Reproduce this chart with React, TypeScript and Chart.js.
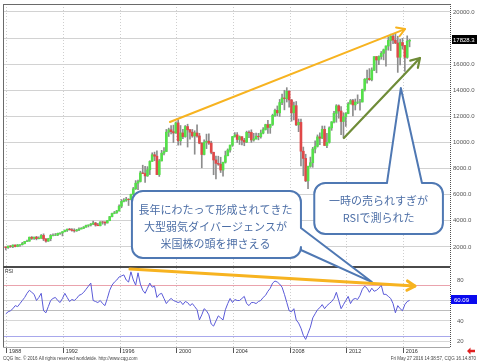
import React, { useEffect, useRef } from 'react';
import { Chart, registerables } from 'chart.js';

Chart.register(...registerables);

// Bimonthly candles of the Dow, first period = Nov-Dec 1987
const FIRST_PERIOD_START = 1987 + 10 / 12;
const PERIOD_LENGTH = 2 / 12;

const OPEN = [
  1990,
  1940, 2070, 2030, 2140, 2030, 2150,
  2170, 2260, 2420, 2440, 2740, 2650,
  2750, 2630, 2660, 2880, 2610, 2440,
  2630, 2880, 2890, 2910, 3040, 3070,
  3170, 3270, 3360, 3320, 3260, 3230,
  3300, 3370, 3430, 3520, 3650, 3680,
  3750, 3830, 3680, 3620, 3910, 3908,
  3830, 4010, 4320, 4560, 4610, 4760,
  5120, 5490, 5570, 5650, 5620, 6030,
  6450, 6880, 7010, 7670, 7622, 7440,
  7910, 8550, 9060, 8950, 7540, 8590,
  9180, 9310, 10790, 10970, 10830, 10730,
  11500, 10130, 10730, 10450, 11220, 10970,
  10790, 10500, 10730, 10500, 9950, 9080,
  10020, 10100, 9950, 9240, 8660, 8400,
  8340, 7890, 8480, 8990, 9420, 9800,
  10450, 10580, 10230, 10440, 10170, 10030,
  10780, 10770, 10190, 10270, 10480, 10440,
  10720, 10990, 11370, 11150, 11380, 12080,
  12460, 12270, 13060, 13410, 13360, 13930,
  13260, 12270, 12820, 11350, 11540, 9330,
  8780, 7060, 8170, 8450, 9500, 9710,
  10430, 10330, 11010, 9770, 10010, 11120,
  11580, 12230, 12810, 12410, 11610, 11960,
  12220, 12950, 13210, 12880, 13090, 13096,
  13104, 14050, 14840, 14910, 14810, 15550,
  16580, 16320, 16580, 16830, 17100, 17390,
  17820, 18130, 17840, 17620, 16530, 17660,
  17430, 16520, 17770,
];

const HIGH = [
  2000,
  2070, 2110, 2160, 2160, 2190, 2180,
  2350, 2420, 2530, 2760, 2790, 2760,
  2810, 2780, 2950, 3000, 2630, 2660,
  2950, 3000, 3030, 3060, 3070, 3170,
  3300, 3370, 3420, 3400, 3390, 3350,
  3460, 3480, 3560, 3670, 3690, 3800,
  3980, 3880, 3800, 3930, 3950, 3920,
  4030, 4340, 4600, 4720, 4800, 5220,
  5630, 5700, 5800, 5700, 6050, 6560,
  7080, 7110, 7800, 8260, 8180, 8150,
  8600, 9210, 9260, 9370, 8700, 9400,
  9600, 11000, 11100, 11300, 11330, 11570,
  11750, 11300, 11000, 11300, 11400, 11000,
  11000, 10900, 11350, 10700, 9980, 10200,
  10640, 10670, 10100, 9260, 8950, 8950,
  8870, 8500, 9340, 9510, 9800, 10470,
  10750, 10760, 10500, 10460, 10320, 10870,
  10900, 10970, 10700, 10720, 10700, 10950,
  11140, 11400, 11700, 11400, 12170, 12550,
  12800, 13300, 13700, 14000, 14200, 13950,
  13300, 13100, 13140, 11800, 11800, 9650,
  9100, 8200, 8880, 9630, 10120, 10580,
  10730, 11260, 11260, 10700, 11200, 11600,
  12390, 12900, 12880, 12760, 12280, 12290,
  13060, 13300, 13300, 13330, 13650, 13300,
  14090, 14900, 15550, 15660, 15720, 16590,
  16590, 16640, 16970, 17160, 17400, 18100,
  18300, 18290, 18350, 18140, 17900, 17980,
  17450, 18170, 17900,
];

const LOW = [
  1770,
  1880, 1960, 1940, 2000, 2010, 2040,
  2140, 2230, 2400, 2430, 2570, 2580,
  2540, 2610, 2650, 2480, 2360, 2420,
  2470, 2850, 2860, 2860, 2960, 2840,
  3150, 3180, 3280, 3200, 3130, 3190,
  3240, 3370, 3400, 3500, 3530, 3600,
  3700, 3590, 3620, 3610, 3740, 3670,
  3830, 4000, 4300, 4540, 4570, 4730,
  5000, 5440, 5490, 5170, 5600, 6000,
  6400, 6390, 6970, 7620, 6940, 7400,
  7540, 8540, 8600, 7530, 7400, 8580,
  9050, 9300, 10460, 10650, 10000, 10700,
  9800, 9800, 10300, 10400, 9650, 10260,
  10400, 9100, 10400, 9900, 8060, 9050,
  9530, 9850, 9130, 7530, 7200, 8250,
  7700, 7420, 8420, 8970, 9250, 9700,
  10400, 10000, 9850, 9810, 9750, 9990,
  10370, 10010, 10100, 10250, 10200, 10330,
  10660, 10950, 10700, 10700, 11300, 12000,
  12050, 12000, 12900, 12500, 13100, 12700,
  11630, 11730, 11300, 10830, 8200, 7450,
  7000, 6470, 8100, 8100, 9200, 9650,
  9830, 10300, 9770, 9610, 9950, 10930,
  11500, 11550, 11860, 10600, 10360, 11230,
  12200, 12950, 12030, 12490, 12970, 12470,
  13100, 13940, 14550, 14760, 14720, 15500,
  15340, 15960, 16380, 16330, 15850, 17070,
  17040, 17580, 17570, 15370, 15940, 17150,
  15450, 16450, 17330,
];

const CLOSE = [
  1940,
  2070, 2030, 2140, 2030, 2150, 2170,
  2260, 2420, 2440, 2740, 2650, 2750,
  2630, 2660, 2880, 2610, 2440, 2630,
  2880, 2890, 2910, 3040, 3070, 3170,
  3270, 3360, 3320, 3260, 3230, 3300,
  3370, 3430, 3520, 3650, 3680, 3750,
  3830, 3680, 3620, 3910, 3908, 3830,
  4010, 4320, 4560, 4610, 4760, 5120,
  5490, 5570, 5650, 5620, 6030, 6450,
  6880, 7010, 7670, 7622, 7440, 7910,
  8550, 9060, 8950, 7540, 8590, 9180,
  9310, 10790, 10970, 10830, 10730, 11500,
  10130, 10730, 10450, 11220, 10970, 10790,
  10500, 10730, 10500, 9950, 9080, 10020,
  10100, 9950, 9240, 8660, 8400, 8340,
  7890, 8480, 8990, 9420, 9800, 10450,
  10580, 10230, 10440, 10170, 10030, 10780,
  10770, 10190, 10270, 10480, 10440, 10720,
  10990, 11370, 11150, 11380, 12080, 12460,
  12270, 13060, 13410, 13360, 13930, 13260,
  12270, 12820, 11350, 11540, 9330, 8780,
  7060, 8170, 8450, 9500, 9710, 10430,
  10330, 11010, 9770, 10010, 11120, 11580,
  12230, 12810, 12410, 11610, 11960, 12220,
  12950, 13210, 12880, 13090, 13096, 13104,
  14050, 14840, 14910, 14810, 15550, 16580,
  16320, 16580, 16830, 17100, 17390, 17820,
  18130, 17840, 17620, 16530, 17660, 17430,
  16520, 17770, 17828.3,
];

const RSI = [
  47,
  49, 50, 52, 55, 54, 57,
  60, 63, 67, 70, 68, 66,
  60, 63, 67, 50, 48, 54,
  60, 62, 63, 60, 58, 62,
  67, 63, 59, 61, 60, 62,
  65, 66, 68, 71, 74, 77,
  60, 59, 58, 60, 57, 55,
  62, 70, 75, 78, 80, 83,
  84, 85, 80, 78, 88, 80,
  75, 87, 76, 70, 67, 72,
  77, 73, 74, 63, 66, 67,
  62, 57, 60, 62, 60, 59,
  58, 59, 56, 59, 58, 55,
  57, 54, 51, 41, 46, 52,
  50, 46, 37, 35, 40, 45,
  43, 41, 51, 57, 62, 58,
  61, 60, 60, 62, 64, 57,
  55, 58, 58, 57, 59, 60,
  63, 65, 69, 72, 77, 79,
  78, 76, 73, 66, 58, 50,
  49, 52, 41, 38, 33, 26,
  22, 28, 34, 43, 47, 51,
  53, 56, 52, 55, 57, 59,
  62, 68, 60, 52, 56, 60,
  64, 57, 61, 62, 61, 65,
  71, 74, 72, 68, 72, 69,
  70, 72, 75, 66, 66, 64,
  62, 57, 48, 55, 52, 50,
  56, 59, 60.09,
];

const YEAR_TICKS = [1988, 1992, 1996, 2000, 2004, 2008, 2012, 2016];
const PRICE_TICKS = [2000, 4000, 6000, 8000, 10000, 12000, 14000, 16000, 18000, 20000];
const RSI_LABELS = [20, 40, 60, 80];
const RSI_LINES = [20, 25, 40, 50, 60, 75, 80];

// annotations, in data coordinates [year, value]
const PRICE_TREND = [[1999.5, 11570], [2016.09, 18690]];
const SUPPORT_TREND = [[2011.78, 10340], [2017.15, 16470]];
const RSI_TREND = [[1996.68, 90.7], [2016.79, 74.1]];
const OVERSOLD_BOX = { x: [2009.69, 2018.77], p: [6894, 2987], base: [2014.82, 2017.29], tip: [2015.8, 14171] };
const DIVERGENCE_BOX = { x: [1996.82, 2008.75], p: [6281, 1149], base: [3447, 1762], tip: [2013.76, 78.0] };
const NOTE_DIVERGENCE = ['長年にわたって形成されてきた', '大型弱気ダイバージェンスが', '米国株の頭を押さえる'];
const NOTE_OVERSOLD = ['一時の売られすぎが', 'RSIで測られた'];
const FOOTER = 'CQG Inc. © 2016 All rights reserved worldwide. http://www.cqg.com';
const STAMP = 'Fri May 27 2016 14:38:57, CQG 16.14.870';

const FONT = '"Liberation Sans", Arial, sans-serif';
const JP_FONT = '"Noto Sans CJK JP", sans-serif';
const CALLOUT_BLUE = '#4f78b3';

function seg(ctx: any, x1: number, y1: number, x2: number, y2: number) {
  ctx.beginPath();
  ctx.moveTo(x1, y1);
  ctx.lineTo(x2, y2);
  ctx.stroke();
}

function arrow(ctx: any, x1: number, y1: number, x2: number, y2: number, color: string, width: number, head: number) {
  ctx.strokeStyle = color;
  ctx.lineWidth = width;
  ctx.lineCap = 'round';
  ctx.lineJoin = 'round';
  seg(ctx, x1, y1, x2, y2);
  const a = Math.atan2(y2 - y1, x2 - x1);
  ctx.beginPath();
  ctx.moveTo(x2 - head * Math.cos(a - 0.55), y2 - head * Math.sin(a - 0.55));
  ctx.lineTo(x2, y2);
  ctx.lineTo(x2 - head * Math.cos(a + 0.55), y2 - head * Math.sin(a + 0.55));
  ctx.stroke();
}

function callout(ctx: any, L: number, T: number, R: number, B: number, rad: number, tail: any) {
  ctx.beginPath();
  ctx.moveTo(L + rad, T);
  if (tail.side === 'top') {
    ctx.lineTo(tail.b1, T);
    ctx.lineTo(tail.tx, tail.ty);
    ctx.lineTo(tail.b2, T);
  }
  ctx.lineTo(R - rad, T);
  ctx.arcTo(R, T, R, T + rad, rad);
  if (tail.side === 'right') {
    ctx.lineTo(R, tail.b1);
    ctx.lineTo(tail.tx, tail.ty);
    ctx.lineTo(R, tail.b2);
  }
  ctx.lineTo(R, B - rad);
  ctx.arcTo(R, B, R - rad, B, rad);
  ctx.lineTo(L + rad, B);
  ctx.arcTo(L, B, L, B - rad, rad);
  ctx.lineTo(L, T + rad);
  ctx.arcTo(L, T, L + rad, T, rad);
  ctx.closePath();
  ctx.fillStyle = '#ffffff';
  ctx.fill();
  ctx.strokeStyle = CALLOUT_BLUE;
  ctx.lineWidth = 2;
  ctx.lineJoin = 'round';
  ctx.stroke();
}

function textLines(ctx: any, lines: string[], cx: number, cy: number, gap: number) {
  ctx.font = `11px ${JP_FONT}`;
  ctx.fillStyle = '#4c6ea6';
  ctx.textAlign = 'center';
  ctx.textBaseline = 'middle';
  const start = cy - ((lines.length - 1) * gap) / 2;
  lines.forEach((t, i) => ctx.fillText(t, cx, start + i * gap));
}

const overlayPlugin = {
  id: 'overlay',
  afterDraw(chart: any) {
    const { ctx, chartArea: area, scales } = chart;
    const X = (v: number) => scales.x.getPixelForValue(v);
    const P = (v: number) => scales.y.getPixelForValue(v);
    const R = (v: number) => scales.rsi.getPixelForValue(v);
    const rsiTop = scales.rsi.top;
    ctx.save();

    // frame
    ctx.lineWidth = 1;
    ctx.strokeStyle = '#6a6a6a';
    seg(ctx, area.left, area.top + 0.5, area.right, area.top + 0.5);
    seg(ctx, area.left + 0.5, area.top, area.left + 0.5, area.bottom);
    ctx.strokeStyle = '#a8a8a8';
    seg(ctx, area.left, area.bottom + 0.5, area.right, area.bottom + 0.5);
    ctx.setLineDash([1, 1]);
    ctx.strokeStyle = '#505050';
    seg(ctx, area.right + 0.5, area.top, area.right + 0.5, area.bottom);
    ctx.setLineDash([]);
    ctx.lineWidth = 2;
    ctx.strokeStyle = '#4a4a4a';
    seg(ctx, area.left, rsiTop, area.right, rsiTop);

    ctx.font = `5px ${FONT}`;
    ctx.fillStyle = '#333';
    ctx.textAlign = 'left';
    ctx.textBaseline = 'top';
    ctx.fillText('RSI', area.left + 2, rsiTop + 2);

    // trend arrows in the price panel
    arrow(ctx, X(PRICE_TREND[0][0]), P(PRICE_TREND[0][1]), X(PRICE_TREND[1][0]), P(PRICE_TREND[1][1]), '#f7b320', 2, 9);
    arrow(ctx, X(SUPPORT_TREND[0][0]), P(SUPPORT_TREND[0][1]), X(SUPPORT_TREND[1][0]), P(SUPPORT_TREND[1][1]), '#6f8c38', 2.2, 10);

    // callouts
    const ob = OVERSOLD_BOX;
    callout(ctx, X(ob.x[0]), P(ob.p[0]), X(ob.x[1]), P(ob.p[1]), 11,
      { side: 'top', b1: X(ob.base[0]), b2: X(ob.base[1]), tx: X(ob.tip[0]), ty: P(ob.tip[1]) });
    textLines(ctx, NOTE_OVERSOLD, (X(ob.x[0]) + X(ob.x[1])) / 2, (P(ob.p[0]) + P(ob.p[1])) / 2 + 1, 17);

    const db = DIVERGENCE_BOX;
    callout(ctx, X(db.x[0]), P(db.p[0]), X(db.x[1]), P(db.p[1]), 11,
      { side: 'right', b1: P(db.base[0]), b2: P(db.base[1]), tx: X(db.tip[0]), ty: R(db.tip[1]) });
    textLines(ctx, NOTE_DIVERGENCE, (X(db.x[0]) + X(db.x[1])) / 2 - 1, (P(db.p[0]) + P(db.p[1])) / 2 + 2, 17);

    // RSI divergence arrow
    arrow(ctx, X(RSI_TREND[0][0]), R(RSI_TREND[0][1]), X(RSI_TREND[1][0]), R(RSI_TREND[1][1]), '#f7b320', 3, 9);

    // last value tags
    const lastClose = CLOSE[CLOSE.length - 1];
    const yc = Math.round(P(lastClose));
    ctx.fillStyle = '#000';
    ctx.fillRect(area.right + 2, yc - 5, 25, 9);
    ctx.fillStyle = '#fff';
    ctx.font = `6px ${FONT}`;
    ctx.textAlign = 'left';
    ctx.textBaseline = 'middle';
    ctx.fillText(lastClose.toFixed(1), area.right + 3, yc);

    const lastRsi = RSI[RSI.length - 1];
    const yr = Math.round(R(lastRsi));
    ctx.fillStyle = '#0a0aee';
    ctx.fillRect(area.right + 1, yr - 5, 26, 9);
    ctx.fillStyle = '#fff';
    ctx.fillText(lastRsi.toFixed(2), area.right + 4, yr);

    // footer
    ctx.font = `4.5px ${FONT}`;
    ctx.fillStyle = '#444';
    ctx.textBaseline = 'middle';
    ctx.textAlign = 'left';
    ctx.fillText(FOOTER, 3, 359);
    ctx.textAlign = 'right';
    ctx.fillText(STAMP, 476, 359);

    // small red arrow icon
    ctx.fillStyle = '#e02020';
    ctx.beginPath();
    ctx.moveTo(467, 351);
    ctx.lineTo(470.5, 347.5);
    ctx.lineTo(470.5, 349.8);
    ctx.lineTo(475, 349.8);
    ctx.lineTo(475, 352.2);
    ctx.lineTo(470.5, 352.2);
    ctx.lineTo(470.5, 354.5);
    ctx.closePath();
    ctx.fill();

    ctx.restore();
  },
};

export default function App() {
  const ref = useRef<HTMLCanvasElement | null>(null);

  useEffect(() => {
    if (!ref.current) return;
    const xs = OPEN.map((_, i) => FIRST_PERIOD_START + i * PERIOD_LENGTH + PERIOD_LENGTH / 2);
    const chart = new Chart(ref.current, {
      type: 'bar',
      data: {
        datasets: [
          {
            type: 'bar',
            data: xs.map((x, i) => ({ x, y: [LOW[i], HIGH[i]] })),
            backgroundColor: '#8c8c8c',
            barThickness: 1,
            grouped: false,
            yAxisID: 'y',
            order: 2,
          } as any,
          {
            type: 'bar',
            data: xs.map((x, i) => ({ x, y: [OPEN[i], CLOSE[i]] })),
            backgroundColor: (c: any) => (CLOSE[c.dataIndex] >= OPEN[c.dataIndex] ? '#55e04a' : '#e04848'),
            barThickness: 2,
            grouped: false,
            yAxisID: 'y',
            order: 1,
          } as any,
          {
            type: 'line',
            data: xs.map((x, i) => ({ x, y: RSI[i] })),
            borderColor: '#5a5ad8',
            borderWidth: 1,
            pointRadius: 0,
            tension: 0,
            yAxisID: 'rsi',
            order: 0,
          } as any,
        ],
      },
      options: {
        animation: false,
        responsive: false,
        devicePixelRatio: 1,
        events: [],
        layout: { padding: { left: 3, top: 4, right: 0, bottom: 0 } },
        plugins: { legend: { display: false }, tooltip: { enabled: false } },
        scales: {
          x: {
            type: 'linear',
            min: 1987.72,
            max: 2019.27,
            offset: false,
            afterBuildTicks: (s: any) => { s.ticks = YEAR_TICKS.map((v) => ({ value: v })); },
            afterFit: (s: any) => { s.height = 17; s.paddingLeft = 0; s.paddingRight = 0; },
            grid: { color: '#cfcfcf', offset: false, drawTicks: true, tickLength: 6, tickColor: '#555', tickWidth: 1 },
            border: { display: false, dash: [1, 2] },
            ticks: {
              autoSkip: false,
              maxRotation: 0,
              align: 'start',
              labelOffset: 2,
              padding: -5,
              color: '#333',
              font: { family: FONT, size: 5.5 },
              callback: (v: any) => String(v),
            },
          },
          y: {
            type: 'linear',
            position: 'right',
            stack: 'panels',
            stackWeight: 263,
            min: 460,
            max: 20610,
            afterBuildTicks: (s: any) => { s.ticks = PRICE_TICKS.map((v) => ({ value: v })); },
            afterFit: (s: any) => { s.width = 27; s.paddingTop = 0; s.paddingBottom = 0; },
            grid: { color: '#d2d2d2', drawTicks: false },
            border: { display: false },
            ticks: {
              autoSkip: false,
              padding: 3,
              color: '#555',
              font: { family: FONT, size: 6 },
              callback: (v: any) => Number(v).toFixed(1),
            },
          },
          rsi: {
            type: 'linear',
            axis: 'y',
            position: 'right',
            stack: 'panels',
            stackWeight: 80,
            min: 14.6,
            max: 92.7,
            afterFit: (s: any) => { s.width = 27; s.paddingTop = 0; s.paddingBottom = 0; },
            afterBuildTicks: (s: any) => { s.ticks = RSI_LINES.map((v) => ({ value: v })); },
            grid: {
              drawTicks: false,
              color: (c: any) => {
                const v = c.tick && c.tick.value;
                if (v === 75) return '#eaa3ad';
                if (v === 25) return '#a8a8ec';
                if (v === 50) return '#bdbdbd';
                if (v === 80) return 'rgba(0,0,0,0)';
                return '#d6d6d6';
              },
            },
            border: { display: false },
            ticks: {
              autoSkip: false,
              padding: 7,
              color: '#555',
              font: { family: FONT, size: 6 },
              callback: (v: any) => (RSI_LABELS.includes(Number(v)) ? String(v) : ''),
            },
          },
        } as any,
      },
      plugins: [overlayPlugin],
    } as any);
    return () => chart.destroy();
  }, []);

  return (
    <div style={{ position: 'fixed', left: 0, top: 0, width: 477, height: 364, background: '#fff' }}>
      <canvas ref={ref} width={477} height={364} style={{ display: 'block' }} />
    </div>
  );
}
